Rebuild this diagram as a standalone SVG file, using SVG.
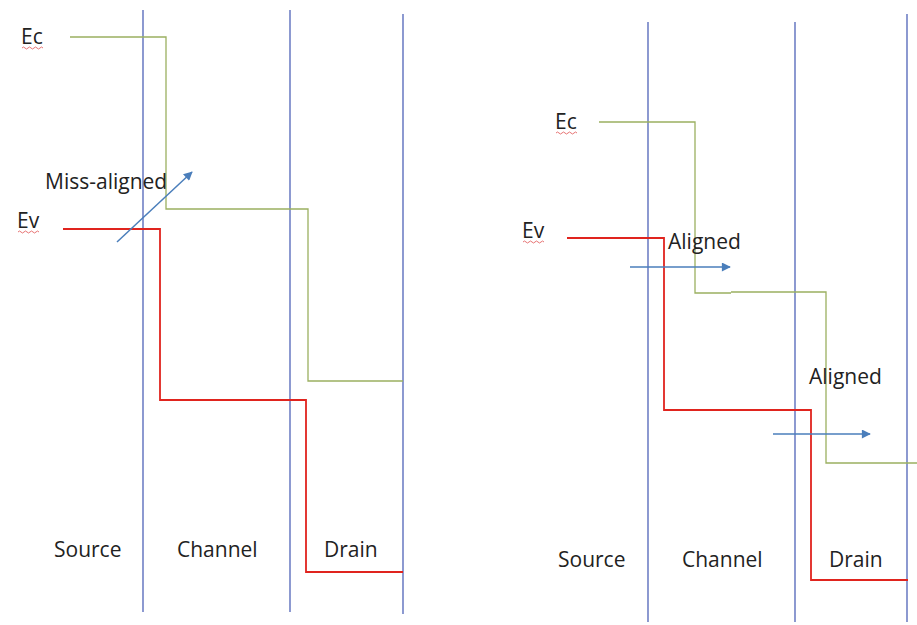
<svg xmlns="http://www.w3.org/2000/svg" width="917" height="625" viewBox="0 0 917 625">
<defs>
<marker id="ah" viewBox="0 0 10 10" refX="9" refY="5" markerWidth="10" markerHeight="9" markerUnits="userSpaceOnUse" orient="auto"><path d="M0,0 L10,5 L0,10 z" fill="#4A7EBB"/></marker>
<style>
.t{font-family:"Open Sans","Liberation Sans",sans-serif;font-size:21px;fill:#222}
.div{stroke:#5064B8;stroke-width:1.3;fill:none}
.ec{stroke:#9BB060;stroke-width:1.3;fill:none}
.ev{stroke:#E0241E;stroke-width:1.8;fill:none}
.ar{stroke:#4A7EBB;stroke-width:1.5;fill:none;marker-end:url(#ah)}
.sq{stroke:#E05050;stroke-width:0.8;fill:none}
</style>
</defs>
<rect width="917" height="625" fill="#fff"/>
<g id="left-panel">
<g id="left-dividers"><path class="div" d="M143,10V612M290,10V612M403,14V614"/></g>
<g id="connectors-left">
<path class="ec" d="M70,37H166V209H308V381H403"/>
<path class="ev" d="M63,229H160V400H306V572H403"/>
<path class="ar" d="M117,242L192,172"/>
</g>
<g id="left-labels">
<text class="t" x="21" y="44">Ec</text><path class="sq" d="M22,48q1.5,-2 3,0t3,0t3,0t3,0t3,0t3,0t3,0"/>
<text class="t" x="17" y="228">Ev</text><path class="sq" d="M18,232q1.5,-2 3,0t3,0t3,0t3,0t3,0t3,0t3,0"/>
<text class="t" x="45" y="189">Miss-aligned</text>
<text class="t" x="54" y="557">Source</text>
<text class="t" x="177" y="557">Channel</text>
<text class="t" x="324" y="557">Drain</text>
</g>
</g>
<g id="right-panel">
<g id="right-dividers"><path class="div" d="M648,22V622M795,22V622M907,14V622"/></g>
<g id="connectors-right">
<path class="ec" d="M599,122H695V293H731M731,292H826V463H917"/>
<path class="ev" d="M567,238H664V410H811V580H908"/>
<path class="ar" d="M630,267H730"/>
<path class="ar" d="M773,434H870"/>
</g>
<g id="right-labels">
<text class="t" x="555" y="129">Ec</text><path class="sq" d="M556,133q1.5,-2 3,0t3,0t3,0t3,0t3,0t3,0t3,0"/>
<text class="t" x="522" y="238">Ev</text><path class="sq" d="M523,242q1.5,-2 3,0t3,0t3,0t3,0t3,0t3,0t3,0"/>
<text class="t" x="668" y="249">Aligned</text>
<text class="t" x="809" y="384">Aligned</text>
<text class="t" x="558" y="567">Source</text>
<text class="t" x="682" y="567">Channel</text>
<text class="t" x="829" y="567">Drain</text>
</g>
</g>
</svg>
